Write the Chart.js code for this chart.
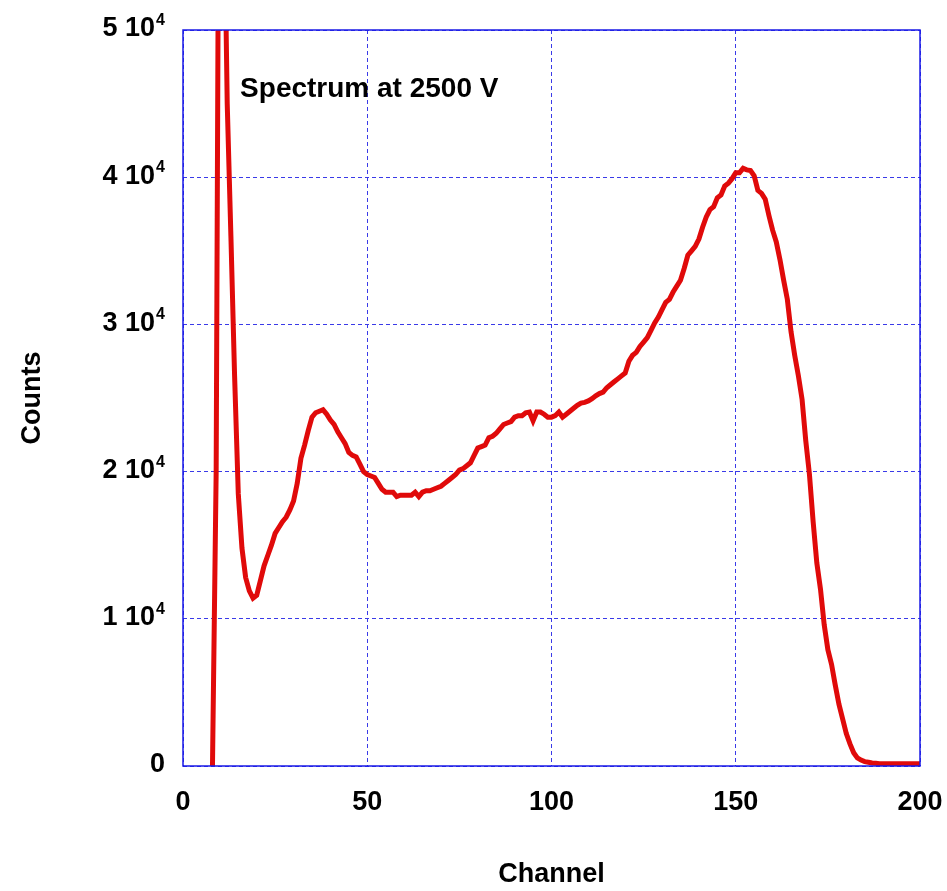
<!DOCTYPE html>
<html lang="en">
<head>
    <meta charset="UTF-8">
    <title>Spectrum at 2500 V</title>
    <script src="https://cdn.jsdelivr.net/npm/chart.js"></script>
    <style>
        html, body { margin: 0; padding: 0; background: #fff; }
        #wrap { width: 947px; height: 891px; }
    </style>
</head>
<body>
    <div id="wrap"><canvas id="spectrum"></canvas></div>

    <script>
        // channel numbers and counts
        const channels = [];
        for (let c = 8; c <= 200; c++) channels.push(c);

        const counts = [
            0, 20000, 80000, 62000, 45000, 36000, 26500, 18500, 14800, 12800,   // 8-17
            11900, 11400, 11600, 12600, 13600, 14300, 15000, 15800, 16200, 16600, // 18-27
            16900, 17400, 18000, 19200, 20900, 21800, 22800, 23700, 24000, 24100, // 28-37
            24200, 23900, 23500, 23200, 22700, 22300, 21900, 21300, 21100, 21000, // 38-47
            20500, 20000, 19800, 19700, 19600, 19200, 18800, 18600, 18600, 18600, // 48-57
            18300, 18400, 18400, 18400, 18400, 18600, 18300, 18600, 18700, 18700, // 58-67
            18800, 18900, 19000, 19200, 19400, 19600, 19800, 20100, 20200, 20400, // 68-77
            20600, 21100, 21600, 21700, 21800, 22300, 22400, 22600, 22900, 23200, // 78-87
            23300, 23400, 23700, 23800, 23800, 24000, 24050, 23450, 24050, 24050, // 88-97
            23900, 23700, 23700, 23800, 24050, 23700, 23900, 24100, 24300, 24500, // 98-107
            24650, 24700, 24800, 24950, 25150, 25300, 25400, 25700, 25900, 26100, // 108-117
            26300, 26500, 26700, 27500, 27900, 28100, 28500, 28800, 29100, 29600, // 118-127
            30100, 30500, 31000, 31500, 31700, 32200, 32600, 33000, 33800, 34700, // 128-137
            35000, 35300, 35800, 36600, 37300, 37800, 38000, 38600, 38800, 39400, // 138-147
            39600, 39900, 40300, 40300, 40600, 40500, 40450, 40100, 39100, 38900, // 148-157
            38500, 37400, 36400, 35600, 34400, 33000, 31700, 29500, 27900, 26500, // 158-167
            24900, 22100, 19800, 16600, 13800, 12000, 9600, 7900, 6900, 5500,     // 168-177
            4200, 3200, 2200, 1500, 900, 550, 400, 300, 250, 200,                 // 178-187
            180, 150, 150, 150, 150, 150, 150, 150, 150, 150,                     // 188-197
            150, 150, 150                                                         // 198-200
        ];

        const xTicks = [0, 50, 100, 150, 200];
        // y tick labels: mantissa and power of ten, "N 10^4"
        const yMantissa = ['0', '1 10', '2 10', '3 10', '4 10', '5 10'];
        const yExponent = ['', '4', '4', '4', '4', '4'];
        const noteText = 'Spectrum at 2500 V';

        const FONT = "'Liberation Sans', Arial, sans-serif";
        const gridBlue = '#3a3ae8';

        // solid frame, y labels with superscripts, and the note text
        const framePlugin = {
            id: 'frame',
            afterDraw(chart) {
                const { ctx, chartArea: a, scales } = chart;
                ctx.save();
                ctx.strokeStyle = '#1a1ae6';
                ctx.lineWidth = 1.5;
                ctx.strokeRect(a.left, a.top, a.right - a.left, a.bottom - a.top);

                ctx.fillStyle = '#000';
                ctx.textAlign = 'right';
                const rightX = a.left - 18;
                scales.y.ticks.forEach((t, i) => {
                    const y = scales.y.getPixelForValue(t.value);
                    let x = rightX;
                    if (yExponent[i]) {
                        ctx.font = 'bold 16px ' + FONT;
                        ctx.textBaseline = 'alphabetic';
                        ctx.fillText(yExponent[i], x, y - 5);
                        x -= ctx.measureText(yExponent[i]).width + 1;
                    }
                    ctx.font = 'bold 27px ' + FONT;
                    ctx.textBaseline = 'middle';
                    ctx.fillText(yMantissa[i], x, y - 1);
                });

                ctx.textAlign = 'left';
                ctx.font = 'bold 28px ' + FONT;
                ctx.textBaseline = 'middle';
                ctx.fillText(noteText, scales.x.getPixelForValue(15.5), scales.y.getPixelForValue(46000));
                ctx.restore();
            }
        };

        const ctx = document.getElementById('spectrum').getContext('2d');
        new Chart(ctx, {
            type: 'line',
            data: {
                datasets: [{
                    data: channels.map((c, i) => ({ x: c, y: counts[i] })),
                    borderColor: '#e00a0a',
                    borderWidth: 5,
                    pointRadius: 0,
                    tension: 0,
                    fill: false
                }]
            },
            options: {
                responsive: true,
                maintainAspectRatio: false,
                animation: false,
                layout: { padding: { top: 30, right: 27, left: 0, bottom: 0 } },
                plugins: { legend: { display: false }, tooltip: { enabled: false } },
                scales: {
                    x: {
                        type: 'linear',
                        min: 0, max: 200,
                        afterBuildTicks: s => { s.ticks = xTicks.map(v => ({ value: v })); },
                        afterFit: s => { s.height = 125; s.paddingLeft = 0; s.paddingRight = 0; },
                        grid: { color: gridBlue, lineWidth: 1, drawTicks: false },
                        border: { display: false, dash: [4, 3] },
                        ticks: { padding: 20, color: '#000', font: { family: FONT, size: 27, weight: 'bold' } },
                        title: { display: true, text: 'Channel', color: '#000', padding: { top: 0, bottom: 0 },
                                 font: { family: FONT, size: 27, weight: 'bold' } }
                    },
                    y: {
                        min: 0, max: 50000,
                        ticks: { stepSize: 10000, display: false },
                        afterFit: s => { s.width = 183; s.paddingTop = 0; s.paddingBottom = 0; },
                        grid: { color: gridBlue, lineWidth: 1, drawTicks: false },
                        border: { display: false, dash: [4, 3] },
                        title: { display: true, text: 'Counts', color: '#000', padding: { top: 16, bottom: 0 },
                                 font: { family: FONT, size: 27, weight: 'bold' } }
                    }
                }
            },
            plugins: [framePlugin]
        });
    </script>
</body>
</html>
